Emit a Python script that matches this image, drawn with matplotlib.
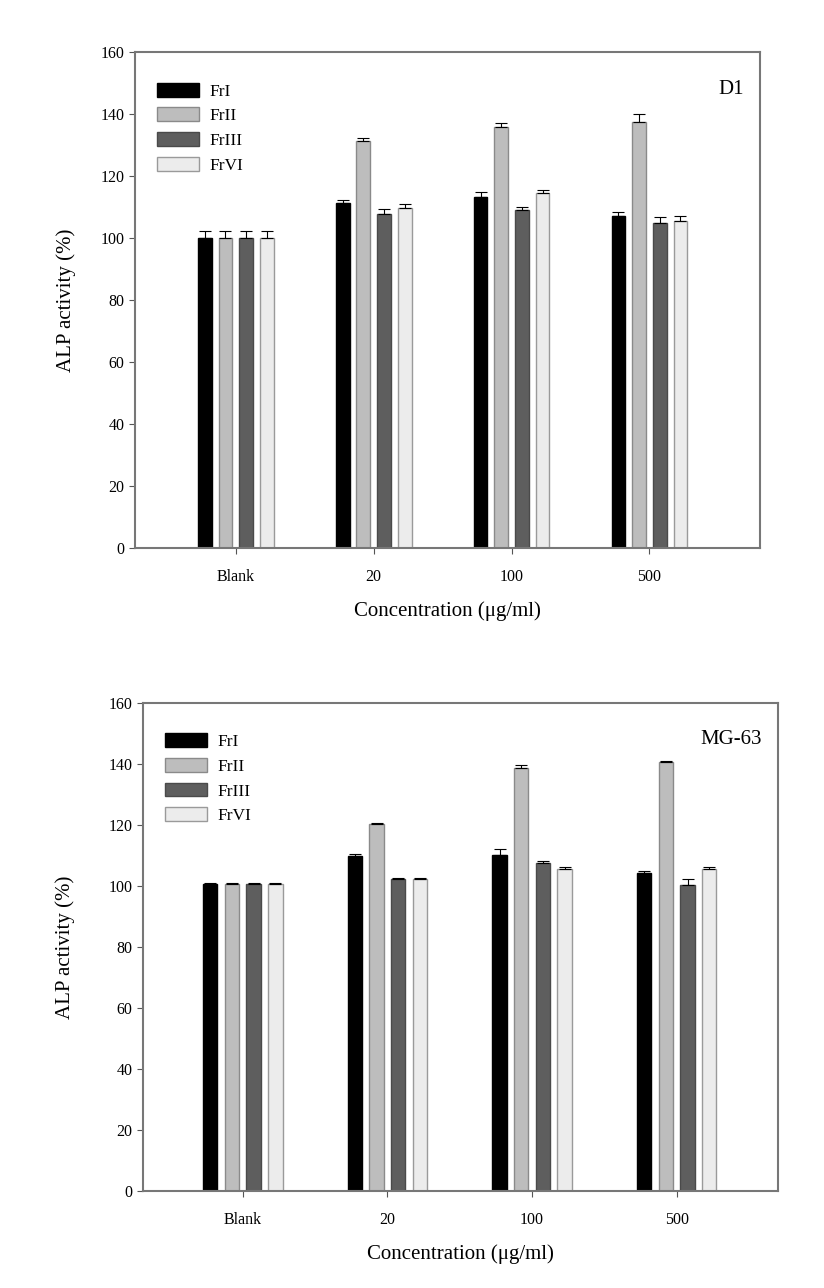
import numpy as np
import matplotlib
matplotlib.use('Agg')
import matplotlib.pyplot as plt

plt.rcParams['font.family'] = ['Liberation Serif', 'DejaVu Serif']

# data
groups = ['Blank', '20', '100', '500']
series = ['FrI', 'FrII', 'FrIII', 'FrVI']

d1_vals = [[100, 111.3, 113.3, 107.0],
           [100, 131.2, 135.8, 137.4],
           [100, 107.8, 109.0, 104.8],
           [100, 109.6, 114.5, 105.5]]
d1_err = [[2.2, 1.0, 1.5, 1.5],
          [2.2, 1.0, 1.5, 2.5],
          [2.2, 1.5, 1.0, 2.0],
          [2.2, 1.5, 1.0, 1.5]]

mg_vals = [[100.5, 109.8, 110.0, 104.3],
           [100.5, 120.2, 138.6, 140.5],
           [100.5, 102.2, 107.6, 100.3],
           [100.5, 102.2, 105.6, 105.5]]
mg_err = [[0.5, 0.5, 2.0, 0.5],
          [0.5, 0.5, 1.0, 0.5],
          [0.5, 0.5, 0.5, 2.0],
          [0.5, 0.5, 0.5, 0.6]]

colors = ['#000000', '#bdbdbd', '#5e5e5e', '#ececec']
edges = ['#000000', '#8a8a8a', '#4a4a4a', '#9a9a9a']


def draw(ax, vals, errs, tag, xlim, ypad):
    x = np.arange(len(groups))
    w = 0.10
    step = 0.15
    for i, name in enumerate(series):
        pos = x + (i - 1.5) * step
        v = np.array(vals[i])
        e = np.array(errs[i])
        ax.bar(pos, v, w, color=colors[i], edgecolor=edges[i], linewidth=1.0,
               label=name, zorder=2)
        ax.errorbar(pos, v, yerr=[np.zeros_like(e), e], fmt='none',
                    ecolor='black', elinewidth=0.8, capsize=4, capthick=0.8,
                    zorder=3)
    ax.set_xlim(*xlim)
    ax.set_ylim(0, 160)
    ax.set_yticks(np.arange(0, 161, 20))
    ax.set_xticks(x)
    ax.set_xticklabels(groups)
    ax.tick_params(axis='both', direction='out', labelsize=11.5, length=4,
                   color='#555555')
    ax.tick_params(axis='x', pad=11)
    for s in ax.spines.values():
        s.set_color('#777777')
        s.set_linewidth(1.5)
    ax.set_ylabel('ALP activity (%)', fontsize=15, labelpad=ypad)
    ax.set_xlabel('Concentration (\u03bcg/ml)', fontsize=15, labelpad=12)
    ax.legend(loc='upper left', frameon=False, fontsize=12.5,
              handlelength=2.4, handleheight=0.85, labelspacing=0.45,
              handletextpad=0.6, bbox_to_anchor=(0.01, 0.97))
    ax.text(0.975, 0.925, tag, transform=ax.transAxes, ha='right', va='center',
            fontsize=15)


fig = plt.figure(figsize=(8.24, 12.88), dpi=100)
ax1 = fig.add_axes([0.164, 0.5745, 0.758, 0.385])
ax2 = fig.add_axes([0.1735, 0.0753, 0.7706, 0.379])
draw(ax1, d1_vals, d1_err, 'D1', (-0.73, 3.80), 18)
draw(ax2, mg_vals, mg_err, 'MG-63', (-0.69, 3.70), 24)

fig.savefig('out.png', dpi=100)
